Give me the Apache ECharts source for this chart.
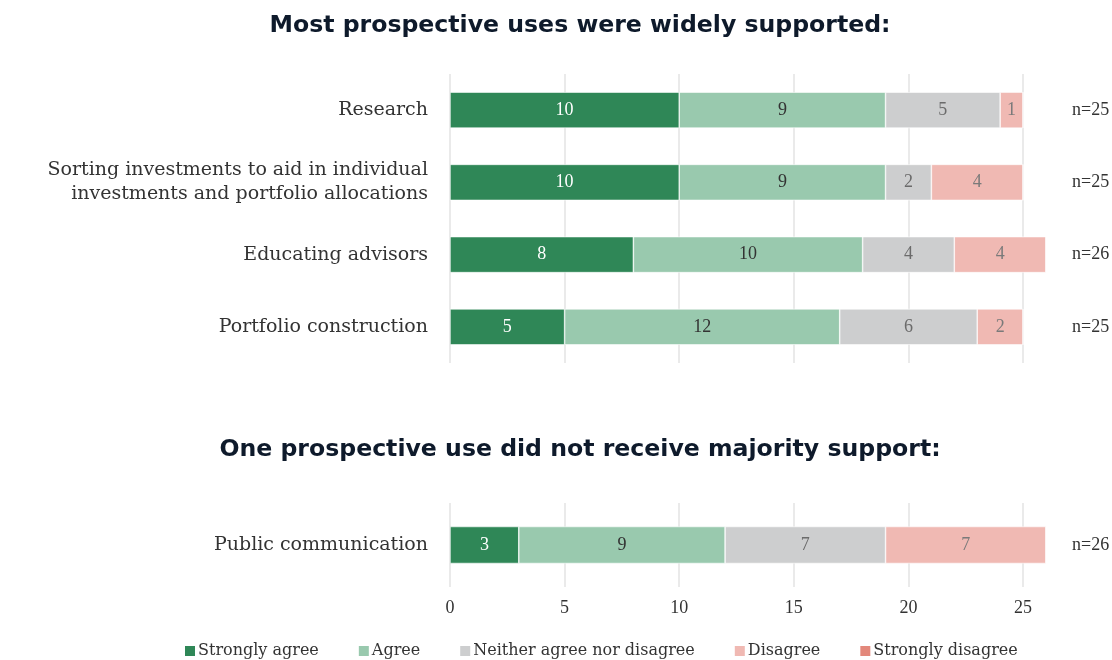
<!DOCTYPE html>
<html>
<head>
<meta charset="utf-8">
<script src="https://cdn.jsdelivr.net/npm/echarts@6/dist/echarts.min.js"></script>
<style>html,body{margin:0;padding:0;background:#fff;}#c{width:1112px;height:660px;}</style>
</head>
<body>
<div id="c"></div>
<script>
// ---- data ----
const topCategories = ['Research', 'Sorting investments to aid in individual\ninvestments and portfolio allocations', 'Educating advisors', 'Portfolio construction'];
const topN = ['n=25', 'n=25', 'n=26', 'n=25'];
const bottomCategories = ['Public communication'];
const bottomN = ['n=26'];
const seriesNames = ['Strongly agree', 'Agree', 'Neither agree nor disagree', 'Disagree', 'Strongly disagree'];
const topStronglyAgree = [10, 10, 8, 5];
const topAgree = [9, 9, 10, 12];
const topNeither = [5, 2, 4, 6];
const topDisagree = [1, 4, 4, 2];
const topStronglyDisagree = [0, 0, 0, 0];
const bottomStronglyAgree = [3];
const bottomAgree = [9];
const bottomNeither = [7];
const bottomDisagree = [7];
const bottomStronglyDisagree = [0];
const xTicks = [0, 5, 10, 15, 20, 25];
const title1 = 'Most prospective uses were widely supported:';
const title2 = 'One prospective use did not receive majority support:';

const colors = ['#2f8757', '#99c9ae', '#cdcecf', '#f0b9b3', '#e3887b'];
const labelColors = ['#ffffff', '#333333', '#6b6b6b', '#7a7a7a', '#7a7a7a'];
const serif = '"Liberation Serif", "DejaVu Serif", serif';
const wideSerif = '"DejaVu Serif", serif';

const topData = [topStronglyAgree, topAgree, topNeither, topDisagree, topStronglyDisagree];
const bottomData = [bottomStronglyAgree, bottomAgree, bottomNeither, bottomDisagree, bottomStronglyDisagree];

function mkSeries(dataSets, axisIdx) {
  return seriesNames.map((name, i) => ({
    name: name,
    type: 'bar',
    stack: 'total' + axisIdx,
    xAxisIndex: axisIdx,
    yAxisIndex: axisIdx * 2,
    barWidth: axisIdx === 0 ? 36 : 37,
    data: dataSets[i],
    itemStyle: { color: colors[i], borderColor: '#ffffff', borderWidth: 0.6 },
    label: {
      show: i < 4,
      position: 'inside',
      color: labelColors[i],
      fontFamily: serif,
      fontSize: 18,
      formatter: p => (p.value > 0 ? p.value : '')
    },
    emphasis: { disabled: true },
    animation: false
  }));
}

const xAxisCommon = {
  type: 'value', min: 0, max: 26, interval: 5,
  axisLine: { show: false }, axisTick: { show: false },
  splitLine: { show: true, showMaxLine: false, lineStyle: { color: '#e3e3e3', width: 1.5 } }
};

const option = {
  backgroundColor: '#ffffff',
  animation: false,
  title: [
    { text: title1, left: 575, top: 9, textAlign: 'center',
      textStyle: { fontFamily: '"DejaVu Sans", sans-serif', fontWeight: 'bold', fontSize: 23.6, color: '#0e1a2b' } },
    { text: title2, left: 575, top: 433, textAlign: 'center',
      textStyle: { fontFamily: '"DejaVu Sans", sans-serif', fontWeight: 'bold', fontSize: 23.6, color: '#0e1a2b' } }
  ],
  legend: {
    data: seriesNames,
    left: 178, top: 638,
    itemWidth: 12, itemHeight: 12, itemGap: 38,
    icon: 'rect',
    textStyle: { fontFamily: wideSerif, fontSize: 16, color: '#333', padding: [0, 0, 0, -3] }
  },
  grid: [
    { left: 450, width: 596, top: 74, height: 289, containLabel: false, outerBoundsMode: 'none' },
    { left: 450, width: 596, top: 503, height: 84, containLabel: false, outerBoundsMode: 'none' }
  ],
  xAxis: [
    Object.assign({}, xAxisCommon, { gridIndex: 0, axisLabel: { show: false } }),
    Object.assign({}, xAxisCommon, { gridIndex: 1,
      axisLabel: { show: true, showMaxLabel: false, margin: 12, fontFamily: serif, fontSize: 18, color: '#333' } })
  ],
  yAxis: [
    { type: 'category', gridIndex: 0, data: topCategories, inverse: true,
      axisLine: { show: false }, axisTick: { show: false },
      axisLabel: { margin: 22, fontFamily: wideSerif, fontSize: 19, lineHeight: 24, color: '#333', align: 'right', padding: [4, 0, 0, 0] } },
    { type: 'category', gridIndex: 0, data: topN, inverse: true, position: 'right',
      axisLine: { show: false }, axisTick: { show: false },
      axisLabel: { margin: 26, fontFamily: serif, fontSize: 18, color: '#333' } },
    { type: 'category', gridIndex: 1, data: bottomCategories,
      axisLine: { show: false }, axisTick: { show: false },
      axisLabel: { margin: 22, fontFamily: wideSerif, fontSize: 19, color: '#333', padding: [4, 0, 0, 0] } },
    { type: 'category', gridIndex: 1, data: bottomN, position: 'right',
      axisLine: { show: false }, axisTick: { show: false },
      axisLabel: { margin: 26, fontFamily: serif, fontSize: 18, color: '#333' } }
  ],
  series: mkSeries(topData, 0).concat(mkSeries(bottomData, 1))
};

const chart = echarts.init(document.getElementById('c'), null, { renderer: 'canvas' });
chart.setOption(option);
</script>
</body>
</html>
